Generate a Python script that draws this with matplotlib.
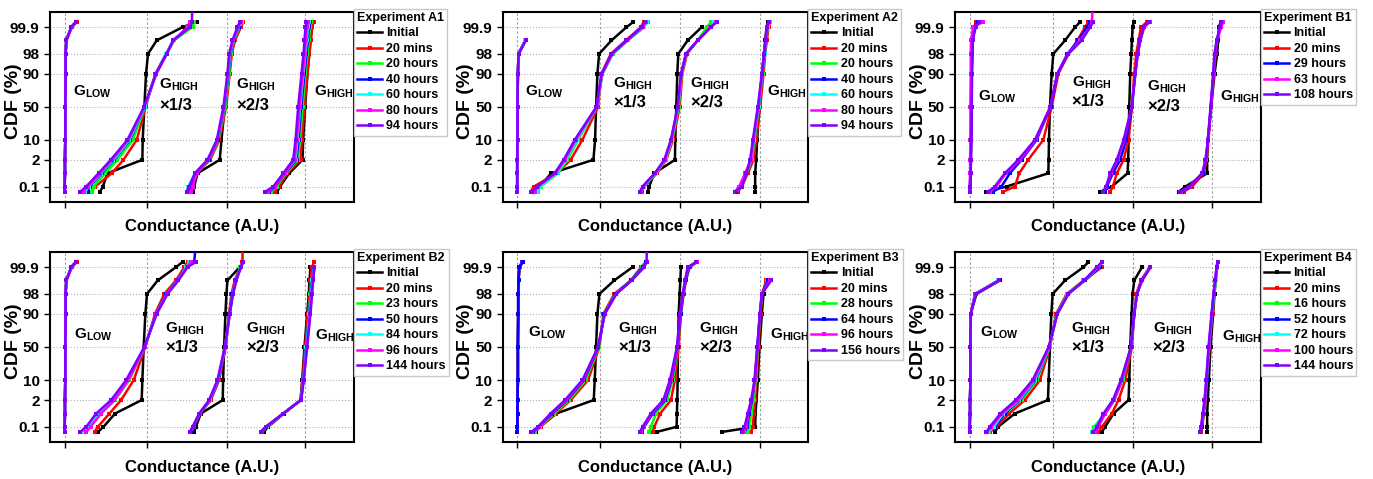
import math
from statistics import NormalDist
import numpy as np
import matplotlib
matplotlib.use("Agg")
import matplotlib.pyplot as plt
from matplotlib.ticker import NullLocator

plt.rcParams['font.family'] = ['Liberation Sans', 'DejaVu Sans']
plt.rcParams['font.weight'] = 'bold'
plt.rcParams['mathtext.fontset'] = 'custom'
plt.rcParams['mathtext.bf'] = 'Liberation Sans:bold'
plt.rcParams['mathtext.rm'] = 'Liberation Sans:bold'

nan = np.nan

LEVELS = [0.05, 0.1, 0.5, 2, 10, 50, 90, 98, 99.5, 99.9, 99.95, 99.999]
YTICKS = [0.1, 2, 10, 50, 90, 98, 99.9]
XTICKS = [0, 249, 488, 725]

PURPLE = '#8000ff'
COL7 = ['black', 'red', '#00ff00', 'blue', 'cyan', 'magenta', PURPLE]

# ---------------- Experiment A1 ----------------
A1_LABELS = ['Initial', '20 mins', '20 hours', '40 hours', '60 hours', '80 hours', '94 hours']
A1_COLORS = COL7
A1_LOW = [
    [0, 0, 1, 1, 2, 2, 3, 3, 5, 20, 33, nan],
    [0, 0, 1, 1, 2, 2, 3, 3, 5, 22, 37, nan],
    [0, 0, 1, 1, 2, 2, 3, 3, 5, 20, 33, nan],
    [0, 0, 1, 1, 2, 2, 3, 3, 5, 20, 33, nan],
    [0, 0, 1, 1, 2, 2, 3, 3, 5, 20, 33, nan],
    [0, 0, 1, 1, 2, 2, 3, 3, 5, 21, 35, nan],
    [0, 0, 1, 1, 2, 2, 3, 3, 5, 20, 35, nan],
]
A1_T1 = [
    [107, 115, 129, 234, 235, 240, 245, 251, 277, 355, 397, nan],
    [79, 92, 142, 177, 217, 244, 273, 305, 329, 369, 377, nan],
    [82, 87, 122, 159, 205, 242, 274, 306, 329, 385, 389, nan],
    [69, 75, 112, 149, 197, 241, 275, 307, 327, 372, 378, nan],
    [62, 72, 109, 147, 195, 241, 275, 306, 327, 375, 380, nan],
    [57, 69, 107, 143, 192, 240, 276, 307, 327, 372, 378, nan],
    [47, 65, 102, 139, 189, 239, 275, 307, 327, 377, 383, 385],
]
A1_T2 = [
    [385, 390, 400, 467, 472, 482, 493, 500, 510, 530, 535, nan],
    [378, 384, 398, 438, 466, 486, 497, 503, 513, 530, 538, nan],
    [375, 380, 396, 436, 463, 483, 495, 500, 510, 526, 534, nan],
    [372, 378, 394, 434, 461, 481, 493, 499, 509, 524, 532, nan],
    [367, 372, 392, 432, 460, 480, 492, 498, 508, 523, 533, nan],
    [380, 385, 398, 433, 460, 480, 491, 497, 507, 522, 530, nan],
    [367, 375, 392, 430, 458, 478, 490, 495, 505, 520, 527, nan],
]
A1_HIGH = [
    [640, 648, 676, 716, 718, 724, 731, 736, 740, 745, 748, nan],
    [632, 645, 670, 710, 714, 722, 731, 737, 741, 745, 750, nan],
    [622, 638, 666, 702, 708, 716, 725, 731, 735, 739, 743, nan],
    [616, 634, 663, 698, 704, 712, 722, 728, 732, 735, 739, nan],
    [612, 630, 660, 695, 701, 709, 719, 725, 729, 732, 736, nan],
    [612, 632, 662, 692, 699, 707, 717, 723, 726, 729, 733, nan],
    [604, 628, 658, 688, 695, 703, 713, 719, 722, 725, 728, nan],
]

# ---------------- Experiment A2 ----------------
A2_LABELS = ['Initial', '20 mins', '20 hours', '40 hours', '60 hours', '80 hours', '94 hours']
A2_COLORS = COL7
A2_LOW = [
    [0, 0, 0, 0, 1, 1, 2, 4, 24, nan, nan, nan],
    [0, 0, 0, 0, 1, 1, 2, 4, 25, nan, nan, nan],
    [0, 0, 0, 0, 1, 1, 2, 4, 24, nan, nan, nan],
    [0, 0, 0, 0, 1, 1, 2, 4, 24, nan, nan, nan],
    [0, 0, 0, 0, 1, 1, 2, 4, 24, nan, nan, nan],
    [0, 0, 0, 0, 1, 1, 2, 4, 25, nan, nan, nan],
    [0, 0, 0, 0, 1, 1, 2, 4, 26, nan, nan, nan],
]
A2_T1 = [
    [62, 67, 102, 228, 233, 236, 240, 245, 282, 327, 347, nan],
    [40, 50, 118, 160, 195, 242, 252, 280, 325, 370, 378, nan],
    [62, 70, 122, 150, 182, 239, 255, 286, 331, 380, 390, nan],
    [55, 66, 117, 145, 177, 238, 254, 285, 330, 375, 385, nan],
    [58, 68, 118, 146, 178, 238, 254, 285, 330, 378, 388, nan],
    [52, 62, 115, 143, 175, 238, 254, 284, 329, 376, 385, nan],
    [45, 60, 112, 139, 172, 237, 252, 282, 327, 372, 382, nan],
]
A2_T2 = [
    [390, 395, 410, 472, 473, 476, 479, 482, 510, 552, nan, nan],
    [372, 380, 418, 446, 466, 486, 494, 508, 540, 575, 590, nan],
    [370, 378, 415, 444, 463, 483, 492, 506, 540, 567, 580, nan],
    [368, 376, 413, 442, 461, 481, 491, 505, 540, 578, 592, nan],
    [370, 377, 414, 443, 462, 482, 491, 505, 540, 578, 590, nan],
    [369, 376, 413, 442, 461, 481, 491, 505, 540, 578, 595, nan],
    [367, 375, 412, 440, 460, 480, 490, 505, 540, 580, 597, nan],
]
A2_HIGH = [
    [712, 712, 712, 715, 718, 724, 732, 738, 742, 746, 750, nan],
    [660, 672, 690, 707, 715, 727, 737, 742, 747, 752, 757, nan],
    [656, 668, 686, 702, 710, 723, 734, 740, 744, 750, 755, nan],
    [654, 666, 684, 700, 708, 722, 733, 740, 744, 749, 753, nan],
    [653, 666, 684, 700, 708, 722, 733, 740, 744, 749, 753, nan],
    [652, 664, 682, 699, 707, 721, 733, 739, 744, 748, 752, nan],
    [652, 672, 686, 697, 705, 720, 732, 739, 743, 747, 752, nan],
]

# ---------------- Experiment B1 ----------------
B1_LABELS = ['Initial', '20 mins', '29 hours', '63 hours', '108 hours']
B1_COLORS = ['black', 'red', 'blue', 'magenta', PURPLE]
B1_LOW = [
    [0, 1, 2, 3, 4, 5, 6, 7, 8, 15, 22, nan],
    [0, 1, 2, 3, 4, 5, 6, 7, 8, 12, 20, nan],
    [0, 1, 2, 3, 4, 5, 6, 7, 8, 14, 24, nan],
    [0, 0, 1, 1, 2, 2, 3, 3, 4, 10, 40, nan],
    [1, 2, 3, 4, 5, 6, 7, 8, 9, 18, 28, nan],
]
B1_T1 = [
    [50, 110, 235, 236, 237, 240, 245, 250, 285, 315, 330, nan],
    [100, 135, 148, 175, 220, 245, 265, 295, 322, 345, 355, nan],
    [70, 95, 120, 155, 200, 242, 262, 292, 325, 350, 360, nan],
    [60, 80, 108, 150, 198, 241, 262, 293, 330, 360, 365, 370],
    [55, 75, 105, 145, 195, 241, 262, 295, 335, 360, 370, nan],
]
B1_T2 = [
    [390, 425, 472, 474, 475, 477, 480, 483, 485, 487, 490, nan],
    [420, 428, 440, 460, 475, 485, 492, 498, 505, 512, 530, nan],
    [405, 410, 428, 450, 468, 485, 495, 502, 510, 520, 535, nan],
    [400, 408, 422, 442, 462, 484, 495, 503, 510, 522, 538, nan],
    [400, 408, 420, 440, 460, 485, 495, 502, 510, 520, 535, nan],
]
B1_HIGH = [
    [625, 645, 710, 710, 712, 722, 732, 740, 743, 745, 750, nan],
    [640, 665, 700, 708, 714, 722, 730, 735, 740, 748, 752, nan],
    [635, 660, 697, 706, 713, 721, 729, 733, 739, 750, 755, nan],
    [632, 658, 696, 706, 713, 721, 729, 734, 740, 752, 758, nan],
    [630, 655, 695, 705, 712, 720, 728, 732, 738, 748, 752, nan],
]

# ---------------- Experiment B2 ----------------
B2_LABELS = ['Initial', '20 mins', '23 hours', '50 hours', '84 hours', '96 hours', '144 hours']
B2_COLORS = COL7
B2_LOW = A1_LOW
B2_T1 = [
    [100, 117, 152, 232, 234, 238, 243, 248, 280, 335, 355, nan],
    [90, 100, 135, 170, 208, 243, 272, 300, 335, 360, 370, nan],
    [60, 75, 108, 152, 195, 241, 275, 306, 340, 365, 375, nan],
    [55, 70, 102, 147, 190, 241, 275, 306, 340, 365, 390, 397],
    [55, 72, 104, 148, 191, 241, 276, 308, 341, 366, 378, nan],
    [65, 78, 110, 150, 192, 241, 276, 308, 342, 368, 380, nan],
    [47, 65, 95, 140, 185, 240, 277, 310, 342, 370, 395, nan],
]
B2_T2 = [
    [390, 395, 410, 476, 477, 480, 484, 487, 490, 527, nan, nan],
    [380, 388, 408, 440, 465, 485, 495, 502, 512, 528, 535, 537],
    [378, 386, 406, 437, 462, 483, 496, 505, 515, 529, 536, nan],
    [379, 387, 407, 438, 463, 484, 496, 505, 515, 530, 537, nan],
    [378, 386, 406, 437, 462, 483, 497, 506, 516, 530, 537, nan],
    [378, 386, 406, 436, 461, 483, 497, 506, 516, 531, 538, nan],
    [377, 385, 405, 435, 460, 482, 497, 507, 517, 530, 537, nan],
]
B2_HIGH = [
    [600, 612, 660, 710, 715, 722, 730, 735, 737, 740, nan, nan],
    [595, 610, 658, 710, 716, 724, 732, 738, 740, 745, 750, nan],
    [592, 608, 658, 711, 718, 727, 735, 740, 744, 750, nan, nan],
    [592, 607, 658, 711, 718, 727, 736, 741, 745, 751, nan, nan],
    [591, 606, 658, 711, 719, 728, 737, 742, 746, 752, nan, nan],
    [590, 606, 658, 712, 719, 729, 738, 743, 747, 752, nan, nan],
    [590, 605, 658, 712, 720, 730, 740, 745, 748, 752, nan, nan],
]

# ---------------- Experiment B3 ----------------
B3_LABELS = ['Initial', '20 mins', '28 hours', '64 hours', '96 hours', '156 hours']
B3_COLORS = ['black', 'red', '#00ff00', 'blue', 'magenta', PURPLE]
B3_LOW = [
    [0, 0, 1, 1, 2, 2, 3, 3, 4, 6, 15, nan],
    [0, 0, 1, 1, 2, 2, 3, 3, 4, 8, 17, nan],
    [0, 0, 1, 1, 2, 2, 3, 3, 4, 6, 15, nan],
    [0, 0, 1, 1, 2, 2, 3, 3, 4, 6, 17, nan],
    [0, 0, 1, 1, 2, 2, 3, 3, 4, 6, 15, nan],
    [0, 0, 1, 1, 2, 2, 3, 3, 4, 6, 15, nan],
]
B3_T1 = [
    [55, 68, 117, 229, 232, 236, 240, 246, 290, 345, nan, nan],
    [50, 70, 115, 160, 212, 246, 258, 290, 340, 370, 385, nan],
    [52, 68, 110, 155, 205, 244, 260, 292, 340, 372, 385, nan],
    [48, 65, 105, 150, 200, 243, 261, 294, 341, 375, 386, nan],
    [45, 64, 102, 147, 198, 242, 262, 295, 342, 378, 387, nan],
    [42, 62, 100, 143, 195, 242, 262, 297, 342, 380, 387, 389],
]
B3_T2 = [
    [417, 477, 478, 479, 480, 481, 483, 486, 488, 490, nan, nan],
    [405, 410, 428, 460, 472, 483, 490, 498, 505, 516, 538, nan],
    [395, 400, 415, 448, 465, 481, 489, 497, 504, 515, 538, nan],
    [372, 380, 406, 443, 462, 480, 489, 497, 504, 514, 537, nan],
    [370, 378, 403, 440, 460, 479, 488, 496, 503, 512, 537, nan],
    [367, 375, 400, 437, 457, 478, 487, 495, 502, 510, 535, nan],
]
B3_HIGH = [
    [612, 712, 713, 716, 720, 725, 732, 737, 745, nan, nan, nan],
    [700, 705, 708, 712, 716, 722, 728, 733, 745, nan, nan, nan],
    [690, 695, 700, 708, 714, 720, 727, 733, 748, nan, nan, nan],
    [680, 688, 694, 703, 711, 719, 726, 732, 750, nan, nan, nan],
    [678, 685, 692, 702, 711, 719, 726, 732, 755, nan, nan, nan],
    [672, 680, 690, 700, 710, 718, 726, 732, 760, nan, nan, nan],
]

# ---------------- Experiment B4 ----------------
B4_LABELS = ['Initial', '20 mins', '16 hours', '52 hours', '72 hours', '100 hours', '144 hours']
B4_COLORS = COL7
B4_LOW = [
    [0, 0, 1, 1, 2, 2, 3, 20, 90, nan, nan, nan],
    [0, 0, 1, 1, 2, 2, 3, 17, 85, nan, nan, nan],
    [0, 0, 1, 1, 2, 2, 3, 16, 85, nan, nan, nan],
    [0, 0, 1, 1, 2, 2, 3, 16, 88, nan, nan, nan],
    [0, 0, 1, 1, 2, 2, 3, 16, 86, nan, nan, nan],
    [0, 0, 1, 1, 2, 2, 3, 17, 88, nan, nan, nan],
    [0, 0, 1, 1, 2, 2, 3, 18, 88, nan, nan, nan],
]
B4_T1 = [
    [75, 85, 135, 234, 236, 240, 244, 248, 285, 340, 355, nan],
    [60, 80, 118, 165, 210, 240, 258, 290, 340, 395, nan, nan],
    [58, 70, 105, 155, 200, 239, 260, 292, 340, 390, nan, nan],
    [55, 75, 105, 150, 197, 238, 261, 293, 345, 390, 395, nan],
    [56, 72, 100, 148, 195, 238, 261, 294, 343, 385, 395, nan],
    [52, 65, 97, 145, 192, 237, 262, 295, 342, 385, nan, nan],
    [50, 60, 92, 138, 188, 236, 262, 295, 342, 380, 395, nan],
]
B4_T2 = [
    [395, 405, 430, 475, 477, 480, 484, 487, 492, 515, nan, nan],
    [385, 395, 425, 445, 465, 485, 492, 498, 512, 538, nan, nan],
    [365, 372, 405, 432, 457, 483, 492, 500, 515, 540, nan, nan],
    [372, 380, 405, 432, 455, 483, 492, 500, 515, 540, nan, nan],
    [365, 378, 402, 430, 455, 482, 492, 500, 515, 540, nan, nan],
    [375, 385, 405, 432, 455, 482, 492, 500, 515, 540, nan, nan],
    [370, 380, 400, 428, 452, 482, 492, 500, 515, 540, nan, nan],
]
B4_HIGH = [
    [710, 710, 710, 712, 715, 720, 728, 732, 735, nan, nan, nan],
    [692, 696, 700, 705, 710, 717, 726, 731, 736, 740, nan, nan],
    [690, 694, 699, 704, 709, 716, 725, 731, 736, 740, 742, nan],
    [690, 694, 699, 704, 709, 716, 725, 730, 735, 739, 742, nan],
    [689, 693, 698, 703, 708, 715, 724, 730, 735, 739, 741, nan],
    [688, 692, 697, 703, 708, 715, 724, 729, 734, 738, 741, nan],
    [688, 692, 697, 702, 707, 714, 723, 729, 734, 738, 741, nan],
]

# text positions (x in A.U., y = CDF % at baseline): LOW, x1/3 G, x1/3 line2, x2/3 G, x2/3 line2, HIGH
A1_TXT = [(25, 67.4), (285, 76.1), (285, 44.9), (517, 76.1), (517, 44.9), (750, 67.4)]
A2_TXT = [(24, 67.4), (287, 77.3), (287, 49.0), (517, 77.3), (517, 49.0), (747, 67.4)]
B1_TXT = [(25, 60.2), (305, 78.9), (305, 51.0), (530, 74.1), (530, 43.8), (747, 60.2)]
B2_TXT = [(29, 62.2), (302, 71.5), (302, 41.8), (547, 71.5), (547, 41.8), (755, 61.2)]
B3_TXT = [(32, 65.1), (302, 71.5), (302, 41.8), (545, 70.6), (545, 41.8), (755, 62.2)]
B4_TXT = [(32, 65.1), (303, 71.5), (303, 41.8), (547, 70.6), (547, 41.8), (755, 60.2)]

# axes boxes in pixels: left, top, right, bottom
COL_X = [(50, 354), (502.5, 808.3), (955, 1261)]
ROW_Y = [(11.7, 202), (251.7, 442.3)]

PANELS = [
    ('A1', A1_LABELS, A1_COLORS, [A1_LOW, A1_T1, A1_T2, A1_HIGH], A1_TXT, 0, 0),
    ('A2', A2_LABELS, A2_COLORS, [A2_LOW, A2_T1, A2_T2, A2_HIGH], A2_TXT, 0, 1),
    ('B1', B1_LABELS, B1_COLORS, [B1_LOW, B1_T1, B1_T2, B1_HIGH], B1_TXT, 0, 2),
    ('B2', B2_LABELS, B2_COLORS, [B2_LOW, B2_T1, B2_T2, B2_HIGH], B2_TXT, 1, 0),
    ('B3', B3_LABELS, B3_COLORS, [B3_LOW, B3_T1, B3_T2, B3_HIGH], B3_TXT, 1, 1),
    ('B4', B4_LABELS, B4_COLORS, [B4_LOW, B4_T1, B4_T2, B4_HIGH], B4_TXT, 1, 2),
]

_nd = NormalDist()
_ppf = np.vectorize(lambda p: _nd.inv_cdf(p) if np.isfinite(p) else np.nan, otypes=[float])
_erf = np.vectorize(math.erf, otypes=[float])


def probit(p):
    p = np.clip(np.asarray(p, dtype=float) / 100.0, 1e-12, 1 - 1e-12)
    return _ppf(p)


def inv_probit(z):
    z = np.asarray(z, dtype=float)
    return 50.0 * (1.0 + _erf(z / math.sqrt(2.0)))


W, H = 1373, 479
fig = plt.figure(figsize=(W / 100, H / 100), dpi=100)

for name, labels, colors, groups, txt, r, c in PANELS:
    x0, x1 = COL_X[c]
    y0, y1 = ROW_Y[r]
    ax = fig.add_axes([x0 / W, 1 - y1 / H, (x1 - x0) / W, (y1 - y0) / H])
    ax.set_yscale('function', functions=(probit, inv_probit))

    for i, lab in enumerate(labels):
        for g, grp in enumerate(groups):
            z = 3
            if name == 'B3' and g == 0 and colors[i] == 'blue':
                z = 4
            ax.plot(grp[i], LEVELS, color=colors[i], lw=1.8, marker='s', ms=2.6,
                    mew=0, label=lab if g == 0 else None, zorder=z)

    ax.set_xlim(-44, 871)
    ax.set_ylim(0.0112, 99.9888)
    ax.set_xticks(XTICKS)
    ax.set_xticklabels([])
    ax.set_yticks(YTICKS)
    ax.set_yticklabels(['0.1', '2', '10', '50', '90', '98', '99.9'])
    ax.yaxis.set_minor_locator(NullLocator())
    ax.xaxis.set_minor_locator(NullLocator())
    ax.tick_params(direction='out', length=4, width=1, labelsize=11)
    ax.grid(axis='y', ls=':', color='#b4b4b4', lw=0.8)
    ax.grid(axis='x', ls=(0, (2, 2)), color='#9a9a9a', lw=0.8)
    for s in ax.spines.values():
        s.set_linewidth(1.5)
    ax.set_ylabel('CDF (%)', fontsize=14, fontweight='bold')
    ax.yaxis.set_label_coords(-0.092, 0.53)
    ax.set_xlabel('Conductance (A.U.)', fontsize=12, fontweight='bold', labelpad=5)

    fs = 11
    ax.text(*txt[0], r'$\mathbf{G_{LOW}}$', fontsize=fs, va='baseline', zorder=2)
    ax.text(*txt[1], r'$\mathbf{G_{HIGH}}$', fontsize=fs, va='baseline', zorder=2)
    ax.text(*txt[2], '×1/3', fontsize=12, va='baseline', zorder=2)
    ax.text(*txt[3], r'$\mathbf{G_{HIGH}}$', fontsize=fs, va='baseline', zorder=2)
    ax.text(*txt[4], '×2/3', fontsize=12, va='baseline', zorder=2)
    ax.text(*txt[5], r'$\mathbf{G_{HIGH}}$', fontsize=fs, va='baseline', zorder=2)

    leg = ax.legend(loc='upper left', bbox_to_anchor=(1.0, 1.015), borderaxespad=0,
                    title='Experiment ' + name, alignment='left',
                    prop={'weight': 'bold', 'size': 9},
                    title_fontproperties={'weight': 'bold', 'size': 9},
                    frameon=True, fancybox=False, edgecolor='#c8c8c8', framealpha=1,
                    borderpad=0.25, labelspacing=0.28, handlelength=2.0,
                    handletextpad=0.35, markerscale=1.2)
    leg.get_frame().set_linewidth(1.0)
    leg.set_zorder(10)

fig.savefig('out.png', dpi=100)
